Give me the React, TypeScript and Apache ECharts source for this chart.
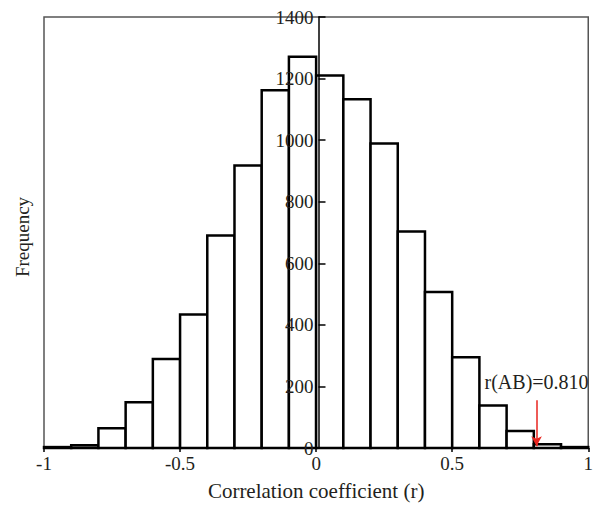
import React, { useEffect, useRef } from "react";
import * as echarts from "echarts";

const binStarts = [-1, -0.9, -0.8, -0.7, -0.6, -0.5, -0.4, -0.3, -0.2, -0.1, 0, 0.1, 0.2, 0.3, 0.4, 0.5, 0.6, 0.7, 0.8, 0.9];
const binWidth = 0.1;
const frequencies = [3, 9, 64, 149, 289, 434, 690, 918, 1162, 1271, 1210, 1133, 989, 703, 507, 295, 138, 55, 12, 3];
const observedR = 0.81;
const observedLabel = "r(AB)=0.810";
const arrowTop = 155;
const arrowBottom = 6;

const FONT = "'Liberation Serif', 'DejaVu Serif', serif";
const TEXT = "#231f20";
const W = 596;
const H = 506;
const GRID_LEFT = 44;
const GRID_RIGHT = 3;

export default function App() {
  const ref = useRef<HTMLDivElement>(null);
  useEffect(() => {
    if (!ref.current) return;
    const chart = echarts.init(ref.current, null, { renderer: "svg" });
    const data = binStarts.map((s, i) => [s, +(s + binWidth).toFixed(2), frequencies[i]]);
    const gridWidth = W - GRID_LEFT - GRID_RIGHT;
    chart.setOption({
      animation: false,
      grid: {
        left: GRID_LEFT,
        right: GRID_RIGHT,
        top: 17,
        bottom: 53,
        show: true,
        borderColor: "#555",
        borderWidth: 1.5,
        backgroundColor: "#fff",
      },
      xAxis: {
        type: "value",
        min: -1,
        max: 1,
        interval: 0.5,
        z: 5,
        name: "Correlation coefficient (r)",
        nameLocation: "middle",
        nameGap: 32,
        nameTextStyle: { fontFamily: FONT, fontSize: 21, color: TEXT },
        axisLine: { onZero: false, lineStyle: { color: "#000", width: 1.5 } },
        axisTick: { show: true, length: 4, lineStyle: { color: "#000", width: 1.5 } },
        axisLabel: { fontFamily: FONT, fontSize: 19, color: TEXT, margin: 6 },
        splitLine: { show: false },
      },
      yAxis: {
        type: "value",
        min: 0,
        max: 1400,
        interval: 200,
        position: "left",
        offset: -gridWidth / 2,
        z: 5,
        axisLine: { show: true, onZero: false, lineStyle: { color: "#000", width: 1.5 } },
        axisTick: { show: true, inside: true, length: 7, lineStyle: { color: "#000", width: 1.5 } },
        axisLabel: {
          fontFamily: FONT,
          fontSize: 19,
          color: TEXT,
          margin: 5,
          formatter: (v: number) => String(v),
        },
        splitLine: { show: false },
      },
      graphic: [
        {
          type: "text",
          x: 22,
          y: 237,
          rotation: Math.PI / 2,
          style: {
            text: "Frequency",
            fontFamily: FONT,
            fontSize: 19,
            fill: TEXT,
            align: "center",
            verticalAlign: "middle",
          },
        },
      ],
      series: [
        {
          type: "custom",
          data,
          encode: { x: [0, 1], y: 2 },
          z: 1,
          renderItem: (params: any, api: any) => {
            const p0 = api.coord([api.value(0), api.value(2)]);
            const p1 = api.coord([api.value(1), 0]);
            return {
              type: "rect",
              shape: { x: p0[0], y: p0[1], width: p1[0] - p0[0], height: p1[1] - p0[1] },
              style: { fill: "#fff", stroke: "#000", lineWidth: 2.5 },
            };
          },
          markLine: {
            silent: true,
            symbol: ["none", "arrow"],
            symbolSize: [8, 10],
            lineStyle: { color: "#e8251f", width: 1.5, type: "solid" },
            label: {
              show: true,
              position: "start",
              formatter: observedLabel,
              fontFamily: FONT,
              fontSize: 20,
              color: TEXT,
              distance: 8,
            },
            data: [[{ coord: [observedR, arrowTop] }, { coord: [observedR, arrowBottom] }]],
          },
        },
      ],
    });
    return () => chart.dispose();
  }, []);
  return (
    <div
      ref={ref}
      style={{ position: "absolute", left: 0, top: 0, width: W, height: H }}
    />
  );
}
